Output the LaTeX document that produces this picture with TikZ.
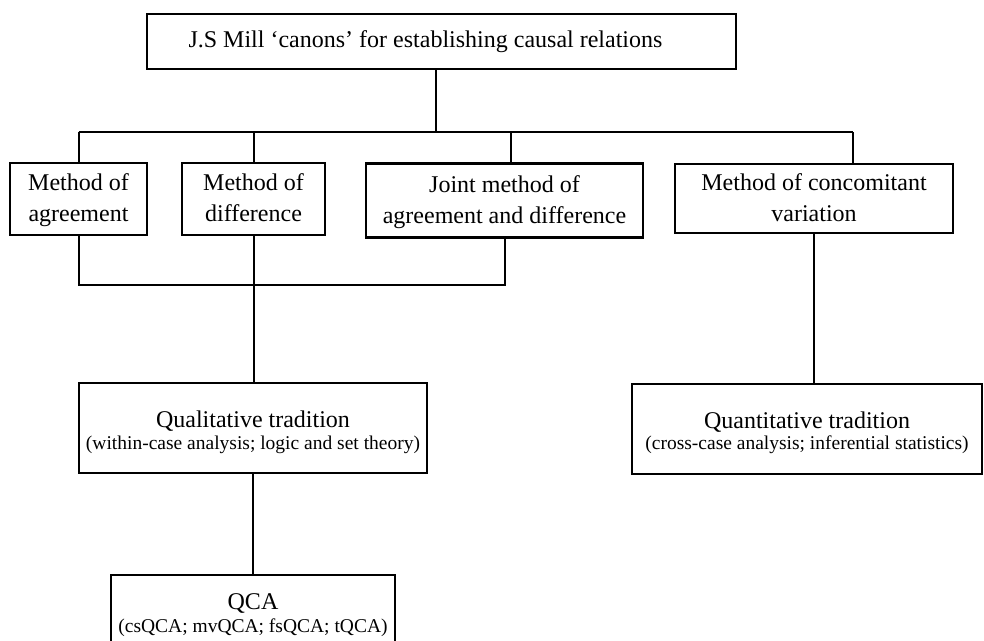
\documentclass[tikz,border=0pt]{standalone}
\usepackage{fontspec}
\setmainfont{Liberation Serif}
\usetikzlibrary{calc}
\tikzset{
  millbox/.style={draw, line width=2.8pt, inner sep=0pt, align=center,
    font=\fontsize{24}{31}\selectfont},
  link/.style={line width=2pt},
}
\newcommand{\subtxt}[1]{{\fontsize{19.5}{22}\selectfont #1}}
\newcommand{\boxstrut}{\rule[-7pt]{0pt}{28pt}}
\newcommand{\headstrut}{\rule{0pt}{25pt}}

\begin{document}
\begin{tikzpicture}[x=1pt, y=-1pt]
  \useasboundingbox (0,0) rectangle (984,640);

  % --- (A) Mill's canons ---
  \node[millbox, minimum width=589pt, minimum height=55pt] (mill) at (441.5,41.5)
    {J.S Mill ‘canons’ for establishing causal relations\hspace*{32pt}};

  % --- (B) The four methods ---
  \node[millbox, minimum width=137pt, minimum height=72pt] (agree) at (78.5,199)
    {\boxstrut Method of\\\boxstrut agreement};
  \node[millbox, minimum width=143pt, minimum height=72pt] (diff) at (253.5,199)
    {\boxstrut Method of\\\boxstrut difference};
  \node[millbox, minimum width=277pt, minimum height=74pt] (joint) at (504.5,200.5)
    {\boxstrut Joint method of\\\boxstrut agreement and difference};
  \node[millbox, minimum width=278pt, minimum height=69pt] (concom) at (814,198.5)
    {\boxstrut Method of concomitant\\\boxstrut variation};

  % upper bus, joining the canons to each method
  \coordinate (upbus) at (0,132);
  \draw[link] ([xshift=-6pt]mill.south) -- ([xshift=-6pt]mill.south |- upbus);
  \draw[link] (agree.north |- upbus) -- ([xshift=39pt]concom.north |- upbus);
  \draw[link] (agree.north) -- (agree.north |- upbus);
  \draw[link] (diff.north) -- (diff.north |- upbus);
  \draw[link] ([xshift=6pt]joint.north) -- ([xshift=6pt]joint.north |- upbus);
  \draw[link] ([xshift=39pt]concom.north) -- ([xshift=39pt]concom.north |- upbus);

  % --- (C) The two traditions ---
  \node[millbox, minimum width=348pt, minimum height=90pt] (qual) at (253,428)
    {\headstrut Qualitative tradition\\[-9pt]\subtxt{(within-case analysis; logic and set theory)}};
  \node[millbox, minimum width=350pt, minimum height=90pt] (quant) at (807,429)
    {\headstrut Quantitative tradition\\[-10pt]\subtxt{(cross-case analysis; inferential statistics)}};

  % lower bus, joining the first three methods
  \coordinate (lowbus) at (0,285);
  \draw[link] (agree.south) -- (agree.south |- lowbus) -| (joint.south);
  \draw[link] (diff.south) -- (diff.south |- qual.north);
  \draw[link] (concom.south) -- (concom.south |- quant.north);

  % --- (D) QCA ---
  \node[millbox, minimum width=284pt, minimum height=80pt] (qca) at (253,615)
    {QCA\\[-8pt]\subtxt{(csQCA; mvQCA; fsQCA; tQCA)}};
  \draw[link] (qual.south) -- (qual.south |- qca.north);

\end{tikzpicture}
\end{document}
